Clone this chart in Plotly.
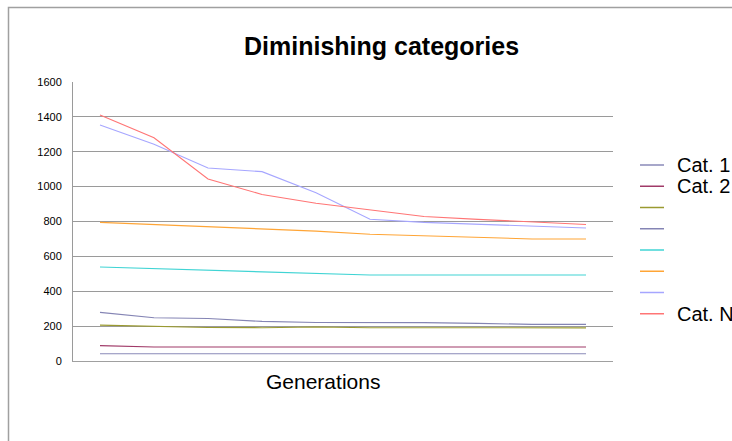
import plotly.graph_objects as go

generations = list(range(1, 11))
series_names = ["Cat. 1", "Cat. 2", "", "", "", "", "", "Cat. N"]
series_colors = ["#8a8ab8", "#a03a68", "#9a9a30", "#8484b4", "#40d4d4", "#ffa536", "#a6a6ff", "#ff7575"]

cat1 = [42, 42, 42, 42, 42, 42, 42, 42, 42, 42]
cat2 = [88, 80, 80, 80, 80, 80, 80, 80, 80, 80]
cat3 = [206, 200, 192, 191, 195, 191, 191, 190, 190, 190]
cat4 = [279, 248, 244, 227, 221, 221, 220, 216, 210, 210]
cat5 = [539, 530, 520, 514, 505, 493, 493, 493, 493, 493]
cat6 = [795, 782, 772, 758, 745, 727, 717, 706, 700, 700]
cat7 = [1353, 1243, 1107, 1086, 965, 813, 795, 784, 772, 763]
catN = [1411, 1280, 1044, 955, 905, 865, 829, 812, 799, 783]

all_series = [cat1, cat2, cat3, cat4, cat5, cat6, cat7, catN]

y_ticks = [0, 200, 400, 600, 800, 1000, 1200, 1400, 1600]

W, H = 732, 441
L, R, T, B = 73, 613, 82, 361
FONT = "Arial, Liberation Sans, sans-serif"

fig = go.Figure()
for name, color, vals in zip(series_names, series_colors, all_series):
    fig.add_trace(go.Scatter(
        x=generations, y=vals, mode="lines", name=name,
        line=dict(color=color, width=1.1), showlegend=False,
    ))

def px_x(p):
    return (p - L) / (R - L)

def px_y(p):
    return (B - p) / (B - T)

annotations = [
    dict(text="<b>Diminishing categories</b>", xref="paper", yref="paper",
         x=px_x(381), y=px_y(46), xanchor="center", yanchor="middle",
         showarrow=False, font=dict(size=25, family=FONT)),
    dict(text="Generations", xref="paper", yref="paper",
         x=px_x(323), y=px_y(381), xanchor="center", yanchor="middle",
         showarrow=False, font=dict(size=21, family=FONT)),
]
shapes = [
    dict(type="rect", xref="paper", yref="paper",
         x0=px_x(8.5), x1=px_x(760), y0=px_y(470), y1=px_y(7.5),
         line=dict(color="#a0a0a0", width=1.5), fillcolor="rgba(0,0,0,0)", layer="below"),
]

# manual legend
for i, (name, color) in enumerate(zip(series_names, series_colors)):
    yc = 165 + 21.25 * i
    shapes.append(dict(type="line", xref="paper", yref="paper",
                       x0=px_x(640), x1=px_x(664), y0=px_y(yc), y1=px_y(yc),
                       line=dict(color=color, width=1.5)))
    if name:
        annotations.append(dict(text=name, xref="paper", yref="paper",
                                x=px_x(675), y=px_y(yc), xanchor="left", yanchor="middle",
                                showarrow=False, font=dict(size=20, family=FONT)))

fig.update_layout(
    width=W, height=H,
    margin=dict(l=L, r=W - R, t=T, b=H - B, autoexpand=False),
    paper_bgcolor="white", plot_bgcolor="white",
    font=dict(family=FONT, color="black"),
    showlegend=False,
    xaxis=dict(
        range=[0.5, 10.5], showticklabels=False, showgrid=False,
        showline=True, linecolor="#a0a0a0", linewidth=1, zeroline=False, ticks="",
    ),
    yaxis=dict(
        range=[0, 1600], tickvals=y_ticks, ticktext=[str(v) for v in y_ticks],
        showgrid=True, gridcolor="#9a9a9a", gridwidth=1,
        showline=True, linecolor="#9a9a9a", linewidth=1, zeroline=False,
        tickfont=dict(size=11, family=FONT),
        ticks="", ticklabelstandoff=8,
    ),
    annotations=annotations,
    shapes=shapes,
)

fig.write_html("out.html")
